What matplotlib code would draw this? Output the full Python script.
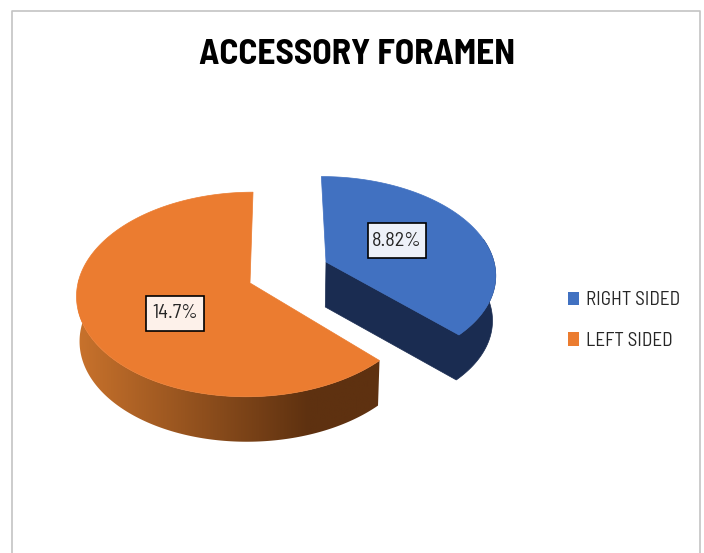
import numpy as np
import matplotlib
matplotlib.use("Agg")
import matplotlib.pyplot as plt
from matplotlib.patches import Polygon, Patch, Rectangle
from matplotlib.colors import LinearSegmentedColormap

categories = ["RIGHT SIDED", "LEFT SIDED"]
values = [8.82, 14.7]
labels = ["8.82%", "14.7%"]
title = "ACCESSORY FORAMEN"
top_colors = ["#4171C1", "#EB7C30"]
font = ["Barlow Semi Condensed", "Carlito", "Lato"]

# pie geometry in pixels
hub_x = [326, 250]
hub_y = [262, 283]
vanish_x = 280
rx = [168, 172]
ry = [95, 101]
tilt = 0.112
depth = 45


def project(i, ang):
    # ang is clockwise from 12 o'clock, circle seen in perspective
    u = np.sin(ang)
    v = -np.cos(ang)
    w = 1 - tilt * v
    x = vanish_x + (hub_x[i] - vanish_x + rx[i] * u) / w
    y = hub_y[i] + ry[i] * v / w
    return x, y


def lower(x, y):
    return vanish_x + (x - vanish_x) * 0.985, y + depth


fig = plt.figure(figsize=(7.04, 5.53), dpi=100)
ax = fig.add_axes([0, 0, 1, 1])

# chart frame, runs off the bottom
ax.plot([11.5, 11.5, 700, 700], [560, 11, 11, 560], color="#C4C4C4", lw=1.2)

fracs = np.array(values) / sum(values)
starts = [0, fracs[0] * 2 * np.pi]
ends = [fracs[0] * 2 * np.pi, 2 * np.pi]

# rim shade of the orange slice, dark towards the right
rim_shade = np.linspace(0, 1, 256).reshape(1, -1)
rim_cmap = LinearSegmentedColormap.from_list(
    "rim", [(0, "#C8722C"), (0.74, "#5E3110"), (1, "#5E3110")])

for i in range(2):
    ang = np.linspace(starts[i], ends[i], 240)
    x, y = project(i, ang)
    bx, by = lower(x, y)
    hx, hy = hub_x[i], hub_y[i]
    hbx, hby = lower(hx, hy)

    # rim, only the front part shows
    keep = (ang > np.pi * 0.42) & (ang < np.pi * 1.6)
    top_edge = list(zip(x[keep], y[keep]))
    low_edge = list(zip(bx[keep][::-1], by[keep][::-1]))
    if i == 0:
        # blue rim and the cut face as one dark shape
        dark = top_edge + [(hx, hy), (hbx, hby)] + low_edge
        ax.add_patch(Polygon(dark, closed=True, fc="#1A2C51", ec="#1A2C51", lw=0.5))
    else:
        shape = Polygon(top_edge + low_edge, closed=True, fc="none", ec="none")
        ax.add_patch(shape)
        im = ax.imshow(rim_shade, cmap=rim_cmap, extent=(78, 390, 460, 280), aspect="auto", zorder=1)
        im.set_clip_path(shape)

    pts = [(hx, hy)] + list(zip(x, y))
    ax.add_patch(Polygon(pts, closed=True, fc=top_colors[i], ec=top_colors[i], lw=0.5, zorder=2))

ax.set_xlim(0, 704)
ax.set_ylim(553, 0)
ax.axis("off")

# data labels in framed boxes
label_pos = [(397, 240.5), (175, 313.5)]
box_fill = ["#EDF1F9", "#FDF1EA"]
for i in range(2):
    cx, cy = label_pos[i]
    ax.add_patch(Rectangle((cx - 29, cy - 17.5), 58, 35, fc=box_fill[i], ec="black", lw=1.2, zorder=3))
    ax.text(cx, cy, labels[i], ha="center", va="center", family=font,
            fontsize=14.5, color="#262626", zorder=4)

ax.text(357, 55.5, title, ha="center", va="center", family=font, fontweight="bold",
        fontsize=25.5, color="black")

handles = [Patch(fc=top_colors[0]), Patch(fc=top_colors[1])]
ax.legend(handles, categories, loc="center left", bbox_to_anchor=(551, 320.5),
          bbox_transform=ax.transData, frameon=False,
          prop={"family": font, "size": 13.8}, labelcolor="#262626",
          handlelength=0.55, handleheight=0.7, handletextpad=0.35, labelspacing=1.15)

fig.savefig("out.png", dpi=100)
